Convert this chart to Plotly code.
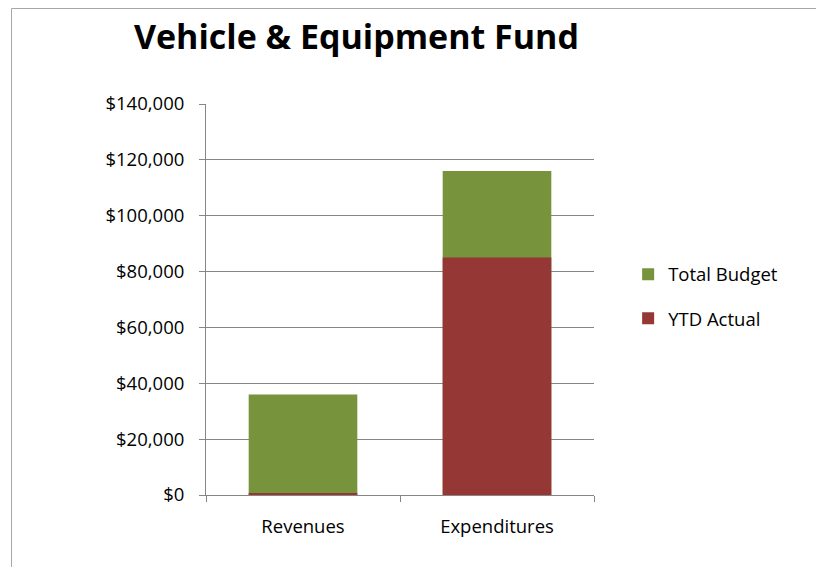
import plotly.graph_objects as go

categories = ["Revenues", "Expenditures"]
total_budget = [36000, 116000]
ytd_actual = [700, 85000]
tick_values = [0, 20000, 40000, 60000, 80000, 100000, 120000, 140000]
tick_labels = ["$0", "$20,000", "$40,000", "$60,000", "$80,000", "$100,000", "$120,000", "$140,000"]

font_family = "'Open Sans', Lato, sans-serif"

fig = go.Figure()

fig.add_trace(go.Bar(
    x=categories,
    y=total_budget,
    name="Total Budget",
    marker=dict(color="#77933C", line=dict(width=0)),
    width=0.56,
    legendgroup="budget",
))

fig.add_trace(go.Bar(
    x=categories,
    y=ytd_actual,
    name="YTD Actual",
    marker=dict(color="#953735", line=dict(width=0)),
    width=0.56,
    legendgroup="actual",
))

# the page body adds an 8px offset, so the figure is a bit smaller than the window
fig.update_layout(
    width=816,
    height=559,
    barmode="overlay",
    plot_bgcolor="white",
    paper_bgcolor="white",
    margin=dict(l=198, r=230, t=96, b=72),
    font=dict(family=font_family, size=18.5, color="#000000"),
    title=dict(
        text="<b>Vehicle & Equipment Fund</b>",
        x=0.427,
        xanchor="center",
        y=0.948,
        yanchor="middle",
        font=dict(size=34, family=font_family, color="#000000"),
    ),
    showlegend=True,
    legend=dict(
        x=1.088,
        xanchor="left",
        y=0.612,
        yanchor="top",
        traceorder="grouped",
        tracegroupgap=17,
        font=dict(size=18.5),
        itemwidth=30,
    ),
    xaxis=dict(
        showline=True,
        linecolor="#868686",
        linewidth=1,
        ticks="outside",
        tickson="boundaries",
        ticklen=6,
        tickcolor="#868686",
        showgrid=False,
        ticklabelstandoff=15,
        tickfont=dict(size=18.5),
    ),
    yaxis=dict(
        range=[0, 140000],
        tickvals=tick_values,
        ticktext=tick_labels,
        showline=True,
        linecolor="#868686",
        linewidth=1,
        ticks="outside",
        ticklen=6,
        tickcolor="#868686",
        showgrid=True,
        gridcolor="#868686",
        gridwidth=1,
        zeroline=False,
        ticklabelstandoff=11,
        tickfont=dict(size=18.5),
    ),
    shapes=[
        dict(
            type="rect",
            xref="paper",
            yref="paper",
            x0=-0.5013,
            x1=1.588,
            y0=-0.212,
            y1=1.2442,
            line=dict(color="#A6A6A6", width=1),
            fillcolor="rgba(0,0,0,0)",
            layer="below",
        )
    ],
)

fig.write_html("out.html")
